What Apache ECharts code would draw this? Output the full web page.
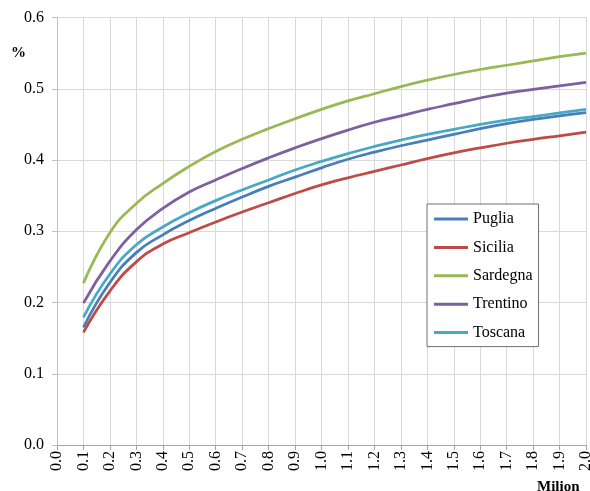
<!DOCTYPE html>
<html>
<head>
<meta charset="utf-8">
<script src="https://cdn.jsdelivr.net/npm/echarts@6/dist/echarts.min.js"></script>
<style>
html,body{margin:0;padding:0;background:#fff;}
#chart{width:590px;height:491px;}
</style>
</head>
<body>
<div id="chart"></div>
<script>
var xValues = [0.1,0.2,0.3,0.4,0.5,0.6,0.7,0.8,0.9,1.0,1.1,1.2,1.3,1.4,1.5,1.6,1.7,1.8,1.9,2.0];
var puglia   = [0.165,0.228,0.270,0.295,0.315,0.332,0.348,0.363,0.376,0.389,0.401,0.411,0.420,0.428,0.436,0.444,0.451,0.457,0.462,0.4665];
var sicilia  = [0.158,0.216,0.257,0.282,0.298,0.313,0.327,0.340,0.353,0.365,0.375,0.384,0.393,0.402,0.410,0.417,0.4235,0.429,0.434,0.439];
var sardegna = [0.227,0.298,0.339,0.367,0.391,0.412,0.429,0.444,0.458,0.471,0.483,0.493,0.503,0.512,0.520,0.527,0.533,0.539,0.545,0.550];
var trentino = [0.199,0.258,0.302,0.332,0.355,0.372,0.388,0.403,0.417,0.430,0.442,0.453,0.462,0.471,0.479,0.487,0.494,0.499,0.504,0.509];
var toscana  = [0.179,0.240,0.281,0.306,0.326,0.343,0.358,0.372,0.386,0.398,0.409,0.419,0.428,0.436,0.443,0.450,0.456,0.461,0.466,0.471];
var seriesNames = ['Puglia','Sicilia','Sardegna','Trentino','Toscana'];
var seriesData = [puglia, sicilia, sardegna, trentino, toscana];
var colors = ['#4a7ebb','#be4b48','#98b954','#7d60a0','#46aac5'];
var yUnit = '%';
var xUnit = 'Milion';

var FONT = "'Liberation Serif','Times New Roman',serif";

function pairs(ys){ return xValues.map(function(x,i){ return [x, ys[i]]; }); }

var chart = echarts.init(document.getElementById('chart'), null, {renderer:'canvas'});
chart.setOption({
  animation:false,
  backgroundColor:'#ffffff',
  color:colors,
  grid:{left:57, right:4, top:17.5, bottom:46, containLabel:false, outerBoundsMode:'none'},
  legend:{
    orient:'vertical',
    left:427, top:204,
    padding:[7,6,6,7],
    itemGap:12.4,
    icon:'rect',
    itemWidth:34, itemHeight:3,
    backgroundColor:'#ffffff',
    borderColor:'#6f6f6f', borderWidth:1,
    textStyle:{fontFamily:FONT, fontSize:16, color:'#000'},
    data:seriesNames
  },
  xAxis:{
    type:'value', min:0, max:2, interval:0.1,
    axisLine:{show:true, lineStyle:{color:'#a6a6a6', width:1}},
    axisTick:{show:true, length:5, lineStyle:{color:'#a6a6a6'}},
    axisLabel:{rotate:90, margin:6, fontFamily:FONT, fontSize:16, color:'#000', hideOverlap:false,
      formatter:function(v){ return (Math.round(v*10)/10).toFixed(1); }},
    splitLine:{show:true, lineStyle:{color:'#d9d9d9', width:1}}
  },
  yAxis:{
    type:'value', min:0, max:0.6, interval:0.1,
    axisLine:{show:true, lineStyle:{color:'#bfbfbf', width:1}},
    axisTick:{show:true, length:5, lineStyle:{color:'#bfbfbf'}},
    axisLabel:{margin:13, fontFamily:FONT, fontSize:16, color:'#000',
      formatter:function(v){ return (Math.round(v*10)/10).toFixed(1); }},
    splitLine:{show:true, lineStyle:{color:'#d9d9d9', width:1}}
  },
  graphic:[
    {type:'text', left:11, top:46, style:{text:yUnit, font:"bold 15px 'Liberation Serif','Times New Roman',serif", fill:'#000'}},
    {type:'text', left:537, top:480, style:{text:xUnit, font:"bold 15px 'Liberation Serif','Times New Roman',serif", fill:'#000'}}
  ],
  series:seriesNames.map(function(n,i){
    return {
      name:n, type:'line', data:pairs(seriesData[i]),
      smooth:0.5, symbol:'none', showSymbol:false,
      lineStyle:{width:2.75, color:colors[i]},
      itemStyle:{color:colors[i]}
    };
  })
});
</script>
</body>
</html>
